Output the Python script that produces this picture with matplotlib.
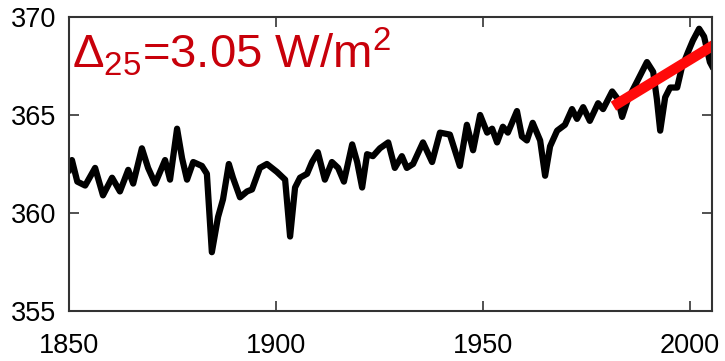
import matplotlib
matplotlib.use('Agg')
import numpy as np
from matplotlib import pyplot as plt

# forcing series
years = [1850.0, 1850.7, 1852.0, 1853.9, 1856.3, 1858.2, 1860.4, 1862.3, 1864.3, 1865.5,
         1867.6, 1869.1, 1870.8, 1873.2, 1874.4, 1876.1, 1877.3, 1878.5, 1880.0, 1882.1,
         1883.3, 1884.5, 1886.0, 1887.2, 1888.6, 1889.6, 1891.3, 1893.0, 1894.2, 1896.1,
         1897.8, 1900.2, 1902.2, 1903.4, 1904.6, 1905.8, 1907.5, 1908.7, 1910.1, 1911.8,
         1913.5, 1915.0, 1916.4, 1918.4, 1919.6, 1920.8, 1922.0, 1923.4, 1925.1, 1927.1,
         1928.7, 1930.4, 1931.6, 1933.1, 1935.5, 1937.7, 1939.6, 1942.0, 1944.4, 1946.1,
         1947.6, 1949.3, 1951.0, 1952.2, 1953.4, 1954.8, 1956.0, 1958.2, 1959.4, 1960.6,
         1962.0, 1963.8, 1965.0, 1966.2, 1967.9, 1969.8, 1971.5, 1972.7, 1974.2, 1975.8,
         1977.8, 1979.0, 1981.2, 1982.6, 1983.6, 1985.0, 1987.2, 1989.6, 1991.1, 1992.0,
         1992.8, 1994.0, 1995.2, 1996.9, 1998.0, 1999.5, 2000.7, 2002.2, 2003.4, 2004.8,
         2005.3]
forcing = [362.2, 362.7, 361.6, 361.4, 362.3, 360.9, 361.8, 361.1, 362.2, 361.5,
           363.3, 362.3, 361.5, 362.7, 361.7, 364.3, 362.8, 361.7, 362.6, 362.4,
           362.0, 358.0, 359.8, 360.7, 362.5, 361.8, 360.8, 361.1, 361.2, 362.3,
           362.5, 362.1, 361.7, 358.8, 361.3, 361.8, 362.0, 362.6, 363.1, 361.7,
           362.6, 362.3, 361.6, 363.5, 362.6, 361.3, 363.0, 362.9, 363.3, 363.6,
           362.3, 362.9, 362.3, 362.5, 363.6, 362.6, 364.1, 364.0, 362.4, 364.5,
           363.2, 365.0, 364.1, 364.3, 363.6, 364.4, 364.1, 365.2, 363.9, 363.7,
           364.6, 363.7, 361.9, 363.4, 364.2, 364.5, 365.3, 364.8, 365.4, 364.7,
           365.6, 365.3, 366.2, 365.8, 364.9, 365.8, 366.7, 367.7, 367.2, 365.8,
           364.2, 365.9, 366.4, 366.4, 367.4, 368.2, 368.8, 369.4, 369.0, 367.7,
           367.5]

trend_years = [1981.5, 2006.0]
trend_vals = [365.45, 368.6]

xticks = [1850, 1900, 1950, 2000]
yticks = [355, 360, 365, 370]

plt.rcParams['font.family'] = ['Liberation Sans', 'DejaVu Sans']
plt.rcParams['mathtext.fontset'] = 'custom'
plt.rcParams['mathtext.rm'] = 'Liberation Sans'
plt.rcParams['mathtext.it'] = 'Liberation Sans'

fig = plt.figure(figsize=(7.25, 3.61), dpi=100)
ax = fig.add_axes([0.0952, 0.1385, 0.8868, 0.8145])
ax.plot(years, forcing, color='black', lw=4.5, solid_joinstyle='round')
ax.plot(trend_years, trend_vals, color='#ff0a0a', lw=7.5, solid_capstyle='butt')

ax.set_xlim(1850, 2005.3)
ax.set_ylim(355, 370)
ax.set_xticks(xticks)
ax.set_yticks(yticks)
ax.tick_params(direction='in', length=7, width=1.2, color='#333333',
               labelsize=19.5, top=True, right=True)
ax.tick_params(axis='x', pad=16)
ax.tick_params(axis='y', pad=9)
for s in ax.spines.values():
    s.set_color('#333333')
    s.set_linewidth(1.5)

ax.text(0.004, 0.97, r'$\mathrm{\Delta_{25}}$=3.05 W/m$^\mathrm{2}$', transform=ax.transAxes,
        color='#c8000a', fontsize=34, va='top', ha='left')

fig.savefig('out.png', dpi=100)
